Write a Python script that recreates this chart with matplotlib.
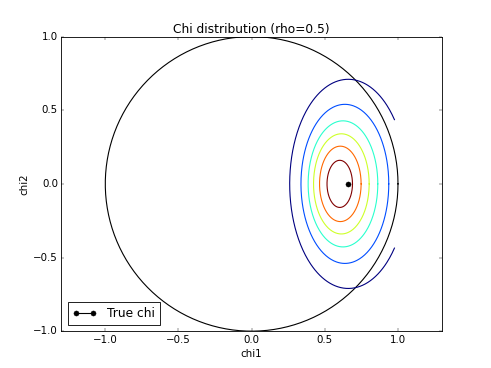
import numpy as np
import matplotlib
matplotlib.use("Agg")
import matplotlib.pyplot as plt

plt.style.use("classic")

# contour levels: centre x, half width, half height
cont_cx = [0.660, 0.637, 0.624, 0.613, 0.606, 0.602]
cont_a = [0.400, 0.300, 0.238, 0.190, 0.142, 0.087]
cont_b = [0.710, 0.540, 0.428, 0.340, 0.256, 0.160]
cont_pos = [0.0, 0.2, 0.4, 0.6, 0.8, 1.0]  # position on jet colormap
grid_xmax = 0.977  # grid ended just inside the unit circle

true_chi = [0.66, 0.0]

fig = plt.figure(figsize=(8, 6))
ax = fig.add_subplot(111)

t = np.linspace(0, 2 * np.pi, 400)
# unit circle
ax.plot(np.cos(t), np.sin(t), "k-", lw=1.3)

for cx, a, b, p in zip(cont_cx, cont_a, cont_b, cont_pos):
    x = cx + a * np.cos(t)
    y = b * np.sin(t)
    x = np.where(x > grid_xmax, np.nan, x)
    ax.plot(x, y, "-", color=plt.cm.jet(p), lw=1.3)

ax.plot([true_chi[0]], [true_chi[1]], "ko-", lw=1.3, label="True chi")

ax.set_xlim(-1.3, 1.3)
ax.set_ylim(-1, 1)
ax.set_xticks([-1.0, -0.5, 0.0, 0.5, 1.0])
ax.set_yticks([-1.0, -0.5, 0.0, 0.5, 1.0])
ax.set_title("Chi distribution (rho=0.5)")
ax.set_xlabel("chi1")
ax.set_ylabel("chi2")
ax.legend(loc="lower left")

fig.savefig("out.png", dpi=61.375)
